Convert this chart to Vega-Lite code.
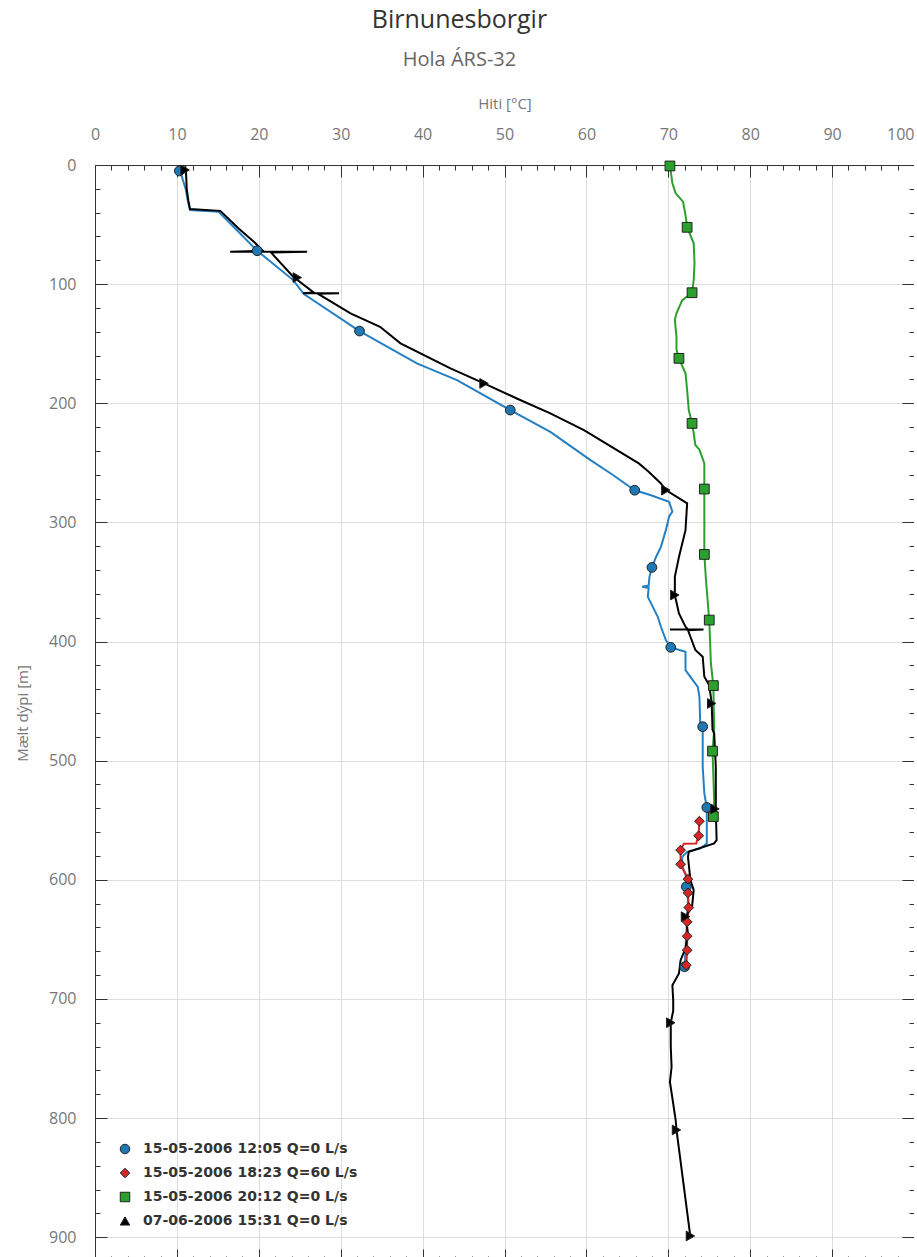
{
  "$schema": "https://vega.github.io/schema/vega-lite/v6.json",
  "autosize": {"type": "none"},
  "width": 819,
  "height": 1096,
  "padding": {"left": 95, "top": 165, "right": 0, "bottom": 0},
  "background": "white",
  "title": {
    "text": "Birnunesborgir",
    "subtitle": "Hola ÁRS-32",
    "anchor": "middle",
    "dx": -45,
    "offset": 26,
    "font": "Open Sans",
    "fontSize": 25,
    "fontWeight": "normal",
    "color": "#333333",
    "subtitleFont": "Open Sans",
    "subtitleFontSize": 20,
    "subtitleColor": "#666666",
    "subtitlePadding": 17
  },
  "config": {
    "view": {"stroke": null},
    "axis": {
      "labelFont": "Open Sans",
      "titleFont": "Open Sans",
      "labelColor": "#777777",
      "titleColor": "#777777",
      "titleFontWeight": "normal",
      "domainColor": "#333333",
      "tickColor": "#333333",
      "gridColor": "#dddddd",
      "labelOverlap": false
    }
  },
  "datasets": {
    "curves": [
      {"s": "15-05-2006 12:05 Q=0 L/s", "t": 10.5, "d": 1},
      {"s": "15-05-2006 12:05 Q=0 L/s", "t": 10.4, "d": 5},
      {"s": "15-05-2006 12:05 Q=0 L/s", "t": 11.1, "d": 21},
      {"s": "15-05-2006 12:05 Q=0 L/s", "t": 11.3, "d": 29},
      {"s": "15-05-2006 12:05 Q=0 L/s", "t": 11.6, "d": 37.8},
      {"s": "15-05-2006 12:05 Q=0 L/s", "t": 15.1, "d": 39.2},
      {"s": "15-05-2006 12:05 Q=0 L/s", "t": 17.3, "d": 54.6},
      {"s": "15-05-2006 12:05 Q=0 L/s", "t": 19.8, "d": 72},
      {"s": "15-05-2006 12:05 Q=0 L/s", "t": 24.2, "d": 96.6},
      {"s": "15-05-2006 12:05 Q=0 L/s", "t": 25.5, "d": 108.3},
      {"s": "15-05-2006 12:05 Q=0 L/s", "t": 32.3, "d": 139.4},
      {"s": "15-05-2006 12:05 Q=0 L/s", "t": 39.3, "d": 166.5},
      {"s": "15-05-2006 12:05 Q=0 L/s", "t": 44.2, "d": 180.5},
      {"s": "15-05-2006 12:05 Q=0 L/s", "t": 50.7, "d": 205.7},
      {"s": "15-05-2006 12:05 Q=0 L/s", "t": 55.6, "d": 224},
      {"s": "15-05-2006 12:05 Q=0 L/s", "t": 60.5, "d": 247.7},
      {"s": "15-05-2006 12:05 Q=0 L/s", "t": 63.2, "d": 260},
      {"s": "15-05-2006 12:05 Q=0 L/s", "t": 65.9, "d": 273},
      {"s": "15-05-2006 12:05 Q=0 L/s", "t": 67.8, "d": 277},
      {"s": "15-05-2006 12:05 Q=0 L/s", "t": 70.1, "d": 282.7},
      {"s": "15-05-2006 12:05 Q=0 L/s", "t": 70.5, "d": 291},
      {"s": "15-05-2006 12:05 Q=0 L/s", "t": 70.1, "d": 295},
      {"s": "15-05-2006 12:05 Q=0 L/s", "t": 69.7, "d": 306.5},
      {"s": "15-05-2006 12:05 Q=0 L/s", "t": 69.1, "d": 320.5},
      {"s": "15-05-2006 12:05 Q=0 L/s", "t": 68.5, "d": 329},
      {"s": "15-05-2006 12:05 Q=0 L/s", "t": 68.0, "d": 337.8},
      {"s": "15-05-2006 12:05 Q=0 L/s", "t": 67.7, "d": 345.7},
      {"s": "15-05-2006 12:05 Q=0 L/s", "t": 67.6, "d": 353},
      {"s": "15-05-2006 12:05 Q=0 L/s", "t": 66.8, "d": 354},
      {"s": "15-05-2006 12:05 Q=0 L/s", "t": 67.6, "d": 355},
      {"s": "15-05-2006 12:05 Q=0 L/s", "t": 67.5, "d": 362.5},
      {"s": "15-05-2006 12:05 Q=0 L/s", "t": 68.7, "d": 379},
      {"s": "15-05-2006 12:05 Q=0 L/s", "t": 69.1, "d": 387.6},
      {"s": "15-05-2006 12:05 Q=0 L/s", "t": 69.7, "d": 398.8},
      {"s": "15-05-2006 12:05 Q=0 L/s", "t": 70.3, "d": 404.9},
      {"s": "15-05-2006 12:05 Q=0 L/s", "t": 72.1, "d": 408.6},
      {"s": "15-05-2006 12:05 Q=0 L/s", "t": 72.1, "d": 424},
      {"s": "15-05-2006 12:05 Q=0 L/s", "t": 73.6, "d": 438},
      {"s": "15-05-2006 12:05 Q=0 L/s", "t": 73.8, "d": 446.4},
      {"s": "15-05-2006 12:05 Q=0 L/s", "t": 73.9, "d": 468.8},
      {"s": "15-05-2006 12:05 Q=0 L/s", "t": 74.2, "d": 471.5},
      {"s": "15-05-2006 12:05 Q=0 L/s", "t": 74.2, "d": 505},
      {"s": "15-05-2006 12:05 Q=0 L/s", "t": 74.4, "d": 527.5},
      {"s": "15-05-2006 12:05 Q=0 L/s", "t": 74.7, "d": 539.3},
      {"s": "15-05-2006 12:05 Q=0 L/s", "t": 74.7, "d": 547},
      {"s": "15-05-2006 12:05 Q=0 L/s", "t": 74.7, "d": 569.5},
      {"s": "15-05-2006 12:05 Q=0 L/s", "t": 73.9, "d": 573.5},
      {"s": "15-05-2006 12:05 Q=0 L/s", "t": 72.3, "d": 576.5},
      {"s": "15-05-2006 12:05 Q=0 L/s", "t": 71.7, "d": 580.7},
      {"s": "15-05-2006 12:05 Q=0 L/s", "t": 71.7, "d": 589},
      {"s": "15-05-2006 12:05 Q=0 L/s", "t": 72.1, "d": 594.7},
      {"s": "15-05-2006 12:05 Q=0 L/s", "t": 72.2, "d": 605.9},
      {"s": "15-05-2006 12:05 Q=0 L/s", "t": 72.4, "d": 617},
      {"s": "15-05-2006 12:05 Q=0 L/s", "t": 72.2, "d": 645},
      {"s": "15-05-2006 12:05 Q=0 L/s", "t": 72.1, "d": 659},
      {"s": "15-05-2006 12:05 Q=0 L/s", "t": 72.0, "d": 673},

      {"s": "15-05-2006 18:23 Q=60 L/s", "t": 73.8, "d": 550.8},
      {"s": "15-05-2006 18:23 Q=60 L/s", "t": 73.7, "d": 563.1},
      {"s": "15-05-2006 18:23 Q=60 L/s", "t": 73.4, "d": 569.5},
      {"s": "15-05-2006 18:23 Q=60 L/s", "t": 71.9, "d": 569.8},
      {"s": "15-05-2006 18:23 Q=60 L/s", "t": 71.5, "d": 575.1},
      {"s": "15-05-2006 18:23 Q=60 L/s", "t": 71.5, "d": 586.9},
      {"s": "15-05-2006 18:23 Q=60 L/s", "t": 72.4, "d": 599.5},
      {"s": "15-05-2006 18:23 Q=60 L/s", "t": 72.4, "d": 611},
      {"s": "15-05-2006 18:23 Q=60 L/s", "t": 72.5, "d": 623.3},
      {"s": "15-05-2006 18:23 Q=60 L/s", "t": 72.3, "d": 635.3},
      {"s": "15-05-2006 18:23 Q=60 L/s", "t": 72.3, "d": 647.4},
      {"s": "15-05-2006 18:23 Q=60 L/s", "t": 72.3, "d": 659.1},
      {"s": "15-05-2006 18:23 Q=60 L/s", "t": 72.2, "d": 671.7},

      {"s": "15-05-2006 20:12 Q=0 L/s", "t": 70.2, "d": 0},
      {"s": "15-05-2006 20:12 Q=0 L/s", "t": 70.5, "d": 15.4},
      {"s": "15-05-2006 20:12 Q=0 L/s", "t": 70.9, "d": 23.8},
      {"s": "15-05-2006 20:12 Q=0 L/s", "t": 71.8, "d": 30.8},
      {"s": "15-05-2006 20:12 Q=0 L/s", "t": 72.1, "d": 42},
      {"s": "15-05-2006 20:12 Q=0 L/s", "t": 72.3, "d": 52.3},
      {"s": "15-05-2006 20:12 Q=0 L/s", "t": 73.1, "d": 65.7},
      {"s": "15-05-2006 20:12 Q=0 L/s", "t": 73.2, "d": 82.5},
      {"s": "15-05-2006 20:12 Q=0 L/s", "t": 73.1, "d": 96.6},
      {"s": "15-05-2006 20:12 Q=0 L/s", "t": 72.9, "d": 107.2},
      {"s": "15-05-2006 20:12 Q=0 L/s", "t": 71.7, "d": 113.4},
      {"s": "15-05-2006 20:12 Q=0 L/s", "t": 71.0, "d": 124.5},
      {"s": "15-05-2006 20:12 Q=0 L/s", "t": 70.8, "d": 130},
      {"s": "15-05-2006 20:12 Q=0 L/s", "t": 71.0, "d": 144},
      {"s": "15-05-2006 20:12 Q=0 L/s", "t": 71.0, "d": 155},
      {"s": "15-05-2006 20:12 Q=0 L/s", "t": 71.3, "d": 162.3},
      {"s": "15-05-2006 20:12 Q=0 L/s", "t": 72.1, "d": 174.9},
      {"s": "15-05-2006 20:12 Q=0 L/s", "t": 72.3, "d": 189},
      {"s": "15-05-2006 20:12 Q=0 L/s", "t": 72.5, "d": 205.7},
      {"s": "15-05-2006 20:12 Q=0 L/s", "t": 72.9, "d": 216.9},
      {"s": "15-05-2006 20:12 Q=0 L/s", "t": 73.1, "d": 225},
      {"s": "15-05-2006 20:12 Q=0 L/s", "t": 73.3, "d": 235},
      {"s": "15-05-2006 20:12 Q=0 L/s", "t": 73.8, "d": 239},
      {"s": "15-05-2006 20:12 Q=0 L/s", "t": 74.4, "d": 250.5},
      {"s": "15-05-2006 20:12 Q=0 L/s", "t": 74.4, "d": 272},
      {"s": "15-05-2006 20:12 Q=0 L/s", "t": 74.4, "d": 306.5},
      {"s": "15-05-2006 20:12 Q=0 L/s", "t": 74.4, "d": 326.9},
      {"s": "15-05-2006 20:12 Q=0 L/s", "t": 74.6, "d": 348.4},
      {"s": "15-05-2006 20:12 Q=0 L/s", "t": 75.0, "d": 382},
      {"s": "15-05-2006 20:12 Q=0 L/s", "t": 75.2, "d": 418.4},
      {"s": "15-05-2006 20:12 Q=0 L/s", "t": 75.5, "d": 437},
      {"s": "15-05-2006 20:12 Q=0 L/s", "t": 75.6, "d": 474.4},
      {"s": "15-05-2006 20:12 Q=0 L/s", "t": 75.4, "d": 492},
      {"s": "15-05-2006 20:12 Q=0 L/s", "t": 75.6, "d": 533},
      {"s": "15-05-2006 20:12 Q=0 L/s", "t": 75.5, "d": 547},

      {"s": "07-06-2006 15:31 Q=0 L/s", "t": 11.0, "d": 1},
      {"s": "07-06-2006 15:31 Q=0 L/s", "t": 11.1, "d": 4},
      {"s": "07-06-2006 15:31 Q=0 L/s", "t": 11.2, "d": 20},
      {"s": "07-06-2006 15:31 Q=0 L/s", "t": 11.4, "d": 30},
      {"s": "07-06-2006 15:31 Q=0 L/s", "t": 11.6, "d": 37},
      {"s": "07-06-2006 15:31 Q=0 L/s", "t": 15.3, "d": 38.5},
      {"s": "07-06-2006 15:31 Q=0 L/s", "t": 17.5, "d": 53},
      {"s": "07-06-2006 15:31 Q=0 L/s", "t": 19.5, "d": 65},
      {"s": "07-06-2006 15:31 Q=0 L/s", "t": 20.5, "d": 72},
      {"s": "07-06-2006 15:31 Q=0 L/s", "t": 16.5, "d": 72.8},
      {"s": "07-06-2006 15:31 Q=0 L/s", "t": 25.9, "d": 72.8},
      {"s": "07-06-2006 15:31 Q=0 L/s", "t": 21.5, "d": 73.5},
      {"s": "07-06-2006 15:31 Q=0 L/s", "t": 24.2, "d": 93.8},
      {"s": "07-06-2006 15:31 Q=0 L/s", "t": 26.7, "d": 107},
      {"s": "07-06-2006 15:31 Q=0 L/s", "t": 25.4, "d": 107.7},
      {"s": "07-06-2006 15:31 Q=0 L/s", "t": 29.8, "d": 107.7},
      {"s": "07-06-2006 15:31 Q=0 L/s", "t": 27.2, "d": 108},
      {"s": "07-06-2006 15:31 Q=0 L/s", "t": 31.2, "d": 124.5},
      {"s": "07-06-2006 15:31 Q=0 L/s", "t": 34.8, "d": 135.8},
      {"s": "07-06-2006 15:31 Q=0 L/s", "t": 37.3, "d": 149.7},
      {"s": "07-06-2006 15:31 Q=0 L/s", "t": 43.4, "d": 170.7},
      {"s": "07-06-2006 15:31 Q=0 L/s", "t": 47.5, "d": 183.3},
      {"s": "07-06-2006 15:31 Q=0 L/s", "t": 51.5, "d": 196},
      {"s": "07-06-2006 15:31 Q=0 L/s", "t": 55.6, "d": 208.5},
      {"s": "07-06-2006 15:31 Q=0 L/s", "t": 59.7, "d": 222.5},
      {"s": "07-06-2006 15:31 Q=0 L/s", "t": 66.4, "d": 250.5},
      {"s": "07-06-2006 15:31 Q=0 L/s", "t": 67.6, "d": 257.5},
      {"s": "07-06-2006 15:31 Q=0 L/s", "t": 69.1, "d": 267.3},
      {"s": "07-06-2006 15:31 Q=0 L/s", "t": 69.7, "d": 272.9},
      {"s": "07-06-2006 15:31 Q=0 L/s", "t": 72.3, "d": 284},
      {"s": "07-06-2006 15:31 Q=0 L/s", "t": 72.1, "d": 306.5},
      {"s": "07-06-2006 15:31 Q=0 L/s", "t": 71.3, "d": 329},
      {"s": "07-06-2006 15:31 Q=0 L/s", "t": 70.8, "d": 345.7},
      {"s": "07-06-2006 15:31 Q=0 L/s", "t": 70.8, "d": 361},
      {"s": "07-06-2006 15:31 Q=0 L/s", "t": 71.3, "d": 376.4},
      {"s": "07-06-2006 15:31 Q=0 L/s", "t": 72.1, "d": 387.6},
      {"s": "07-06-2006 15:31 Q=0 L/s", "t": 72.4, "d": 390},
      {"s": "07-06-2006 15:31 Q=0 L/s", "t": 70.2, "d": 390},
      {"s": "07-06-2006 15:31 Q=0 L/s", "t": 74.3, "d": 390},
      {"s": "07-06-2006 15:31 Q=0 L/s", "t": 72.4, "d": 390.5},
      {"s": "07-06-2006 15:31 Q=0 L/s", "t": 72.7, "d": 396},
      {"s": "07-06-2006 15:31 Q=0 L/s", "t": 73.3, "d": 407},
      {"s": "07-06-2006 15:31 Q=0 L/s", "t": 74.2, "d": 412.8},
      {"s": "07-06-2006 15:31 Q=0 L/s", "t": 74.4, "d": 429.6},
      {"s": "07-06-2006 15:31 Q=0 L/s", "t": 75.0, "d": 436.6},
      {"s": "07-06-2006 15:31 Q=0 L/s", "t": 75.3, "d": 452},
      {"s": "07-06-2006 15:31 Q=0 L/s", "t": 75.4, "d": 474},
      {"s": "07-06-2006 15:31 Q=0 L/s", "t": 75.6, "d": 477},
      {"s": "07-06-2006 15:31 Q=0 L/s", "t": 75.8, "d": 505},
      {"s": "07-06-2006 15:31 Q=0 L/s", "t": 75.8, "d": 541.5},
      {"s": "07-06-2006 15:31 Q=0 L/s", "t": 75.9, "d": 566.7},
      {"s": "07-06-2006 15:31 Q=0 L/s", "t": 75.6, "d": 569.5},
      {"s": "07-06-2006 15:31 Q=0 L/s", "t": 72.5, "d": 576.5},
      {"s": "07-06-2006 15:31 Q=0 L/s", "t": 72.4, "d": 580.7},
      {"s": "07-06-2006 15:31 Q=0 L/s", "t": 72.7, "d": 600.3},
      {"s": "07-06-2006 15:31 Q=0 L/s", "t": 73.1, "d": 608.7},
      {"s": "07-06-2006 15:31 Q=0 L/s", "t": 72.9, "d": 622.6},
      {"s": "07-06-2006 15:31 Q=0 L/s", "t": 72.1, "d": 631},
      {"s": "07-06-2006 15:31 Q=0 L/s", "t": 72.4, "d": 645},
      {"s": "07-06-2006 15:31 Q=0 L/s", "t": 72.1, "d": 657.7},
      {"s": "07-06-2006 15:31 Q=0 L/s", "t": 71.5, "d": 667.5},
      {"s": "07-06-2006 15:31 Q=0 L/s", "t": 71.3, "d": 678.7},
      {"s": "07-06-2006 15:31 Q=0 L/s", "t": 70.5, "d": 688.5},
      {"s": "07-06-2006 15:31 Q=0 L/s", "t": 70.6, "d": 701},
      {"s": "07-06-2006 15:31 Q=0 L/s", "t": 70.6, "d": 710},
      {"s": "07-06-2006 15:31 Q=0 L/s", "t": 70.3, "d": 720},
      {"s": "07-06-2006 15:31 Q=0 L/s", "t": 70.3, "d": 740},
      {"s": "07-06-2006 15:31 Q=0 L/s", "t": 70.4, "d": 757},
      {"s": "07-06-2006 15:31 Q=0 L/s", "t": 70.2, "d": 769.7},
      {"s": "07-06-2006 15:31 Q=0 L/s", "t": 70.9, "d": 801.8},
      {"s": "07-06-2006 15:31 Q=0 L/s", "t": 71.0, "d": 810},
      {"s": "07-06-2006 15:31 Q=0 L/s", "t": 72.7, "d": 900}
    ],
    "markers": [
      {"s": "15-05-2006 12:05 Q=0 L/s", "t": 10.3, "d": 5},
      {"s": "15-05-2006 12:05 Q=0 L/s", "t": 19.8, "d": 72},
      {"s": "15-05-2006 12:05 Q=0 L/s", "t": 32.3, "d": 139.4},
      {"s": "15-05-2006 12:05 Q=0 L/s", "t": 50.7, "d": 205.7},
      {"s": "15-05-2006 12:05 Q=0 L/s", "t": 65.9, "d": 273},
      {"s": "15-05-2006 12:05 Q=0 L/s", "t": 68.0, "d": 337.8},
      {"s": "15-05-2006 12:05 Q=0 L/s", "t": 70.3, "d": 404.9},
      {"s": "15-05-2006 12:05 Q=0 L/s", "t": 74.2, "d": 471.5},
      {"s": "15-05-2006 12:05 Q=0 L/s", "t": 74.7, "d": 539.3},
      {"s": "15-05-2006 12:05 Q=0 L/s", "t": 72.2, "d": 605.9},
      {"s": "15-05-2006 12:05 Q=0 L/s", "t": 72.0, "d": 673},

      {"s": "15-05-2006 18:23 Q=60 L/s", "t": 73.8, "d": 550.8},
      {"s": "15-05-2006 18:23 Q=60 L/s", "t": 73.7, "d": 563.1},
      {"s": "15-05-2006 18:23 Q=60 L/s", "t": 71.5, "d": 575.1},
      {"s": "15-05-2006 18:23 Q=60 L/s", "t": 71.5, "d": 586.9},
      {"s": "15-05-2006 18:23 Q=60 L/s", "t": 72.4, "d": 599.5},
      {"s": "15-05-2006 18:23 Q=60 L/s", "t": 72.4, "d": 611},
      {"s": "15-05-2006 18:23 Q=60 L/s", "t": 72.5, "d": 623.3},
      {"s": "15-05-2006 18:23 Q=60 L/s", "t": 72.3, "d": 635.3},
      {"s": "15-05-2006 18:23 Q=60 L/s", "t": 72.3, "d": 647.4},
      {"s": "15-05-2006 18:23 Q=60 L/s", "t": 72.3, "d": 659.1},
      {"s": "15-05-2006 18:23 Q=60 L/s", "t": 72.2, "d": 671.7},

      {"s": "15-05-2006 20:12 Q=0 L/s", "t": 70.2, "d": 0.8},
      {"s": "15-05-2006 20:12 Q=0 L/s", "t": 72.3, "d": 52.3},
      {"s": "15-05-2006 20:12 Q=0 L/s", "t": 72.9, "d": 107.2},
      {"s": "15-05-2006 20:12 Q=0 L/s", "t": 71.3, "d": 162.3},
      {"s": "15-05-2006 20:12 Q=0 L/s", "t": 72.9, "d": 216.9},
      {"s": "15-05-2006 20:12 Q=0 L/s", "t": 74.4, "d": 272},
      {"s": "15-05-2006 20:12 Q=0 L/s", "t": 74.4, "d": 326.9},
      {"s": "15-05-2006 20:12 Q=0 L/s", "t": 75.0, "d": 382},
      {"s": "15-05-2006 20:12 Q=0 L/s", "t": 75.5, "d": 437},
      {"s": "15-05-2006 20:12 Q=0 L/s", "t": 75.4, "d": 492},
      {"s": "15-05-2006 20:12 Q=0 L/s", "t": 75.5, "d": 547},

      {"s": "07-06-2006 15:31 Q=0 L/s", "t": 11.0, "d": 4.2},
      {"s": "07-06-2006 15:31 Q=0 L/s", "t": 24.7, "d": 94.5},
      {"s": "07-06-2006 15:31 Q=0 L/s", "t": 47.5, "d": 183.3},
      {"s": "07-06-2006 15:31 Q=0 L/s", "t": 69.7, "d": 272.9},
      {"s": "07-06-2006 15:31 Q=0 L/s", "t": 70.8, "d": 361},
      {"s": "07-06-2006 15:31 Q=0 L/s", "t": 75.3, "d": 452},
      {"s": "07-06-2006 15:31 Q=0 L/s", "t": 75.7, "d": 540.5},
      {"s": "07-06-2006 15:31 Q=0 L/s", "t": 72.1, "d": 631},
      {"s": "07-06-2006 15:31 Q=0 L/s", "t": 70.3, "d": 720},
      {"s": "07-06-2006 15:31 Q=0 L/s", "t": 71.0, "d": 810},
      {"s": "07-06-2006 15:31 Q=0 L/s", "t": 72.7, "d": 899}
    ]
  },
  "layer": [
    {
      "data": {"name": "curves"},
      "mark": {"type": "line", "strokeWidth": 2, "clip": true},
      "encoding": {
        "x": {
          "field": "t", "type": "quantitative",
          "scale": {"domain": [0, 100], "nice": false, "zero": false},
          "axis": {
            "orient": "top",
            "title": "Hiti [°C]",
            "titleFontSize": 15,
            "titlePadding": 8,
            "values": [0,2,4,6,8,10,12,14,16,18,20,22,24,26,28,30,32,34,36,38,40,42,44,46,48,50,52,54,56,58,60,62,64,66,68,70,72,74,76,78,80,82,84,86,88,90,92,94,96,98,100],
            "labelExpr": "datum.value % 10 === 0 ? datum.label : ''",
            "labelFontSize": 16,
            "labelPadding": 35,
            "labelAlign": {"condition": {"test": "datum.value === 100", "value": "right"}, "value": "center"},
            "tickSize": {"condition": {"test": "datum.value % 10 === 0", "value": -12}, "value": -5},
            "grid": true,
            "gridOpacity": {"condition": {"test": "datum.value % 10 === 0 && datum.value > 0 && datum.value < 100", "value": 1}, "value": 0}
          }
        },
        "y": {
          "field": "d", "type": "quantitative",
          "scale": {"domain": [0, 920], "nice": false, "reverse": true},
          "axis": {
            "orient": "left",
            "title": "Mælt dýpi [m]",
            "titleFontSize": 15,
            "titlePadding": 18,
            "values": [0,20,40,60,80,100,120,140,160,180,200,220,240,260,280,300,320,340,360,380,400,420,440,460,480,500,520,540,560,580,600,620,640,660,680,700,720,740,760,780,800,820,840,860,880,900,920],
            "labelExpr": "datum.value % 100 === 0 ? datum.label : ''",
            "labelFontSize": 16,
            "labelPadding": 31,
            "tickSize": {"condition": {"test": "datum.value % 100 === 0", "value": -12}, "value": -5},
            "grid": true,
            "gridOpacity": {"condition": {"test": "datum.value % 100 === 0 && datum.value > 0", "value": 1}, "value": 0}
          }
        },
        "color": {
          "field": "s", "type": "nominal",
          "scale": {
            "domain": ["15-05-2006 12:05 Q=0 L/s", "15-05-2006 18:23 Q=60 L/s", "15-05-2006 20:12 Q=0 L/s", "07-06-2006 15:31 Q=0 L/s"],
            "range": ["#2580c3", "#d62728", "#2ca02c", "#000000"]
          },
          "legend": null
        },
        "order": {"value": null}
      }
    },
    {
      "data": {"name": "markers"},
      "mark": {"type": "point", "filled": true, "stroke": "#222222", "strokeWidth": 1, "opacity": 1, "size": 95},
      "encoding": {
        "x": {
          "field": "t", "type": "quantitative",
          "axis": {
            "orient": "bottom",
            "title": null,
            "labels": false,
            "values": [0,2,4,6,8,10,12,14,16,18,20,22,24,26,28,30,32,34,36,38,40,42,44,46,48,50,52,54,56,58,60,62,64,66,68,70,72,74,76,78,80,82,84,86,88,90,92,94,96,98,100],
            "tickSize": {"condition": {"test": "datum.value % 10 === 0", "value": -12}, "value": -5},
            "grid": false
          }
        },
        "y": {
          "field": "d", "type": "quantitative",
          "axis": {
            "orient": "right",
            "title": null,
            "labels": false,
            "values": [0,20,40,60,80,100,120,140,160,180,200,220,240,260,280,300,320,340,360,380,400,420,440,460,480,500,520,540,560,580,600,620,640,660,680,700,720,740,760,780,800,820,840,860,880,900,920],
            "tickSize": {"condition": {"test": "datum.value % 100 === 0", "value": -12}, "value": -5},
            "grid": false
          }
        },
        "color": {
          "field": "s", "type": "nominal",
          "scale": {
            "domain": ["15-05-2006 12:05 Q=0 L/s", "15-05-2006 18:23 Q=60 L/s", "15-05-2006 20:12 Q=0 L/s", "07-06-2006 15:31 Q=0 L/s"],
            "range": ["#1f77b4", "#d62728", "#2ca02c", "#000000"]
          },
          "legend": {
            "title": null,
            "orient": "none",
            "legendX": 23,
            "legendY": 977,
            "labelFont": "DejaVu Sans",
            "labelFontWeight": "bold",
            "labelFontSize": 14,
            "labelColor": "#333333",
            "labelLimit": 0,
            "symbolSize": 90,
            "symbolStrokeColor": "#222222",
            "symbolStrokeWidth": 1,
            "rowPadding": 10,
            "labelOffset": 11
          }
        },
        "shape": {
          "field": "s", "type": "nominal",
          "scale": {
            "domain": ["15-05-2006 12:05 Q=0 L/s", "15-05-2006 18:23 Q=60 L/s", "15-05-2006 20:12 Q=0 L/s", "07-06-2006 15:31 Q=0 L/s"],
            "range": ["circle", "diamond", "square", "triangle-up"]
          },
          "legend": {
            "title": null,
            "orient": "none",
            "legendX": 23,
            "legendY": 977,
            "labelFont": "DejaVu Sans",
            "labelFontWeight": "bold",
            "labelFontSize": 14,
            "labelColor": "#333333",
            "labelLimit": 0,
            "symbolSize": 90,
            "symbolStrokeColor": "#222222",
            "symbolStrokeWidth": 1,
            "rowPadding": 10,
            "labelOffset": 11
          }
        },
        "angle": {
          "condition": {"test": "datum.s === '07-06-2006 15:31 Q=0 L/s'", "value": 90},
          "value": 0
        }
      }
    }
  ],
  "resolve": {
    "axis": {"x": "independent", "y": "independent"},
    "scale": {"color": "independent", "shape": "independent"}
  }
}
